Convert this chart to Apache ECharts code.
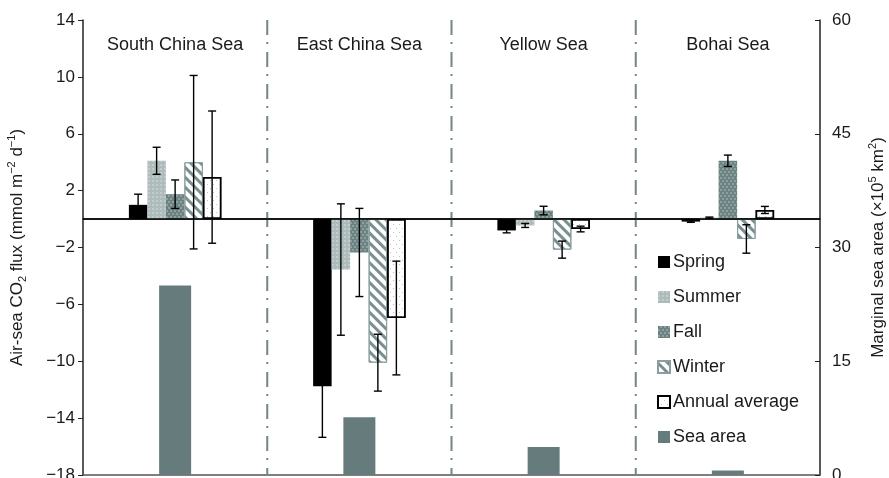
<!DOCTYPE html>
<html><head><meta charset="utf-8">
<script src="https://cdn.jsdelivr.net/npm/echarts@6/dist/echarts.min.js"></script>
<style>html,body{margin:0;padding:0;background:#fff}#c{width:889px;height:478px}</style>
</head><body><div id="c"></div>
<script>
// ---- data ----
const categories = ['South China Sea', 'East China Sea', 'Yellow Sea', 'Bohai Sea'];
const spring     = [1.0, -11.75, -0.8, -0.18];
const springErr  = [0.75, 3.6, 0.17, 0.05];
const summer     = [4.1, -3.55, -0.45, 0.1];
const summerErr  = [0.95, 4.62, 0.14, 0.04];
const fall       = [1.75, -2.35, 0.6, 4.1];
const fallErr    = [1.0, 3.1, 0.3, 0.4];
const winter     = [4.0, -10.1, -2.15, -1.4];
const winterErr  = [6.1, 2.0, 0.6, 1.0];
const annual     = [2.95, -6.96, -0.7, 0.64];
const annualErr  = [4.65, 4.0, 0.2, 0.25];
const seaArea    = [25, 7.6, 3.7, 0.6];
const leftTicks  = [-18, -14, -10, -6, -2, 2, 6, 10, 14];
const rightTicks = [0, 15, 30, 45, 60];
const dividerAfter = [0, 1, 2];

// ---- styling ----
const FONT = '"Liberation Sans", Arial, Helvetica, sans-serif';
const BAR_W = 18.5;
const seasons = [
  {name: 'Spring', values: spring, err: springErr,
   itemStyle: {color: '#000000'}},
  {name: 'Summer', values: summer, err: summerErr,
   itemStyle: {color: '#adbbbb', decal: {symbol: 'rect', symbolSize: 0.8, dashArrayX: [2, 2], dashArrayY: [2, 2], color: 'rgba(235,242,242,0.55)'}}},
  {name: 'Fall', values: fall, err: fallErr,
   itemStyle: {color: '#6c8282', decal: {symbol: 'circle', symbolSize: 0.9, dashArrayX: [[2, 2], [0, 2, 2, 0]], dashArrayY: [2, 1], color: 'rgba(190,205,205,0.6)'}}},
  {name: 'Winter', values: winter, err: winterErr,
   itemStyle: {color: '#ffffff', borderColor: '#8a9e9e', borderWidth: 1,
     decal: {symbol: 'rect', symbolSize: 1, dashArrayX: [1, 0], dashArrayY: [3, 4], rotation: Math.PI / 4, color: '#7a9090'}}},
  {name: 'Annual average', values: annual, err: annualErr,
   itemStyle: {color: '#ffffff', borderColor: '#000000', borderWidth: 1.5,
     decal: {symbol: 'rect', symbolSize: 1, dashArrayX: [[1, 5], [0, 3, 1, 2]], dashArrayY: [1, 3], color: '#b9c5c5'}}}
];

const series = seasons.map((s, k) => ({
  name: s.name, type: 'bar', xAxisIndex: 0, yAxisIndex: 0,
  barWidth: BAR_W, barGap: '0%', data: s.values, itemStyle: s.itemStyle, z: 3,
  markLine: k === 0 ? {silent: true, symbol: ['none', 'none'], label: {show: false},
    lineStyle: {color: '#000', width: 1.5, type: 'solid'}, data: [{yAxis: 0}], z: 6} : undefined
}));

series.push({
  name: 'Sea area', type: 'bar', xAxisIndex: 1, yAxisIndex: 1,
  barWidth: 32, data: seaArea, itemStyle: {color: '#667c7c'}, z: 2
});

const errData = [];
seasons.forEach((s, k) => s.values.forEach((v, i) => errData.push([i, v - s.err[i], v + s.err[i], k])));

series.push({
  type: 'custom', xAxisIndex: 0, yAxisIndex: 0, z: 8, silent: true,
  encode: {x: 0, y: [1, 2]},
  data: errData,
  renderItem(params, api) {
    const c = api.value(0), lo = api.value(1), hi = api.value(2), k = api.value(3);
    const p1 = api.coord([c, hi]), p2 = api.coord([c, lo]);
    const x = p1[0] + (k - 2) * BAR_W;
    const cap = 4;
    const st = {stroke: '#000', lineWidth: 1.4};
    return {type: 'group', children: [
      {type: 'line', shape: {x1: x, y1: p1[1], x2: x, y2: p2[1]}, style: st},
      {type: 'line', shape: {x1: x - cap, y1: p1[1], x2: x + cap, y2: p1[1]}, style: st},
      {type: 'line', shape: {x1: x - cap, y1: p2[1], x2: x + cap, y2: p2[1]}, style: st}
    ]};
  }
});

series.push({
  type: 'custom', xAxisIndex: 0, yAxisIndex: 0, z: 1, silent: true,
  data: dividerAfter.map(i => [i, 0]),
  renderItem(params, api) {
    const i = api.value(0);
    const a = api.coord([i, 0])[0], b = api.coord([i + 1, 0])[0];
    const x = (a + b) / 2;
    const cs = params.coordSys;
    return {type: 'line', shape: {x1: x, y1: cs.y, x2: x, y2: cs.y + cs.height},
      style: {stroke: '#6f8787', lineWidth: 2, lineDash: [15, 7, 2, 8]}};
  }
});

const nameRichL = {
  n: {fontSize: 17, lineHeight: 22, fontFamily: FONT, color: '#1a1a1a'},
  sub: {fontSize: 11, verticalAlign: 'bottom', fontFamily: FONT, color: '#1a1a1a'},
  sup: {fontSize: 11, verticalAlign: 'top', fontFamily: FONT, color: '#1a1a1a'}
};

const option = {
  animation: false,
  backgroundColor: '#ffffff',
  textStyle: {fontFamily: FONT},
  grid: {left: 83, right: 69, top: 20, bottom: 3, containLabel: false, outerBoundsMode: 'none'},
  legend: {
    orient: 'vertical', left: 657, top: 253, padding: 0,
    itemWidth: 12, itemHeight: 12, itemGap: 17,
    textStyle: {fontSize: 18, lineHeight: 18, color: '#1a1a1a', fontFamily: FONT, padding: [0, 0, 0, -2]},
    data: ['Spring', 'Summer', 'Fall', 'Winter', 'Annual average', 'Sea area'].map(n => ({name: n, icon: 'rect'}))
  },
  xAxis: [
    {type: 'category', position: 'top', data: categories,
     axisLine: {show: true, lineStyle: {color: '#222', width: 1.5}},
     axisTick: {show: false}, splitLine: {show: false},
     axisLabel: {inside: true, margin: 16, fontSize: 18, color: '#1a1a1a', fontFamily: FONT}},
    {type: 'category', position: 'bottom', data: categories,
     axisLine: {show: true, lineStyle: {color: '#555', width: 1.5}},
     axisTick: {show: false}, axisLabel: {show: false}, splitLine: {show: false}}
  ],
  yAxis: [
    {type: 'value', position: 'left', min: -18, max: 14,
     axisLine: {show: true, lineStyle: {color: '#222', width: 1.5}},
     axisTick: {show: true, length: 5, customValues: leftTicks, lineStyle: {color: '#222'}},
     axisLabel: {customValues: leftTicks, fontSize: 17, margin: 8, color: '#1a1a1a', fontFamily: FONT,
       formatter: v => String(v).replace('-', '\u2212')},
     splitLine: {show: false},
     name: '{n|Air-sea CO}{sub|2}{n| flux (mmol m}{sup|\u22122}{n| d}{sup|\u22121}{n|)}',
     nameLocation: 'middle', nameGap: 55, nameRotate: 90,
     nameTextStyle: {rich: nameRichL}},
    {type: 'value', position: 'right', min: 0, max: 60, interval: 15,
     axisLine: {show: true, lineStyle: {color: '#222', width: 1.5}},
     axisTick: {show: true, inside: true, length: 5, lineStyle: {color: '#222'}},
     axisLabel: {fontSize: 17, margin: 12, color: '#1a1a1a', fontFamily: FONT},
     splitLine: {show: false},
     name: '{n|Marginal sea area (\u00d710}{sup|5}{n| km}{sup|2}{n|)}',
     nameLocation: 'middle', nameGap: 47, nameRotate: 90,
     nameTextStyle: {rich: nameRichL}}
  ],
  series: series
};

const chart = echarts.init(document.getElementById('c'), null, {renderer: 'canvas'});
chart.setOption(option);
</script>
</body></html>
